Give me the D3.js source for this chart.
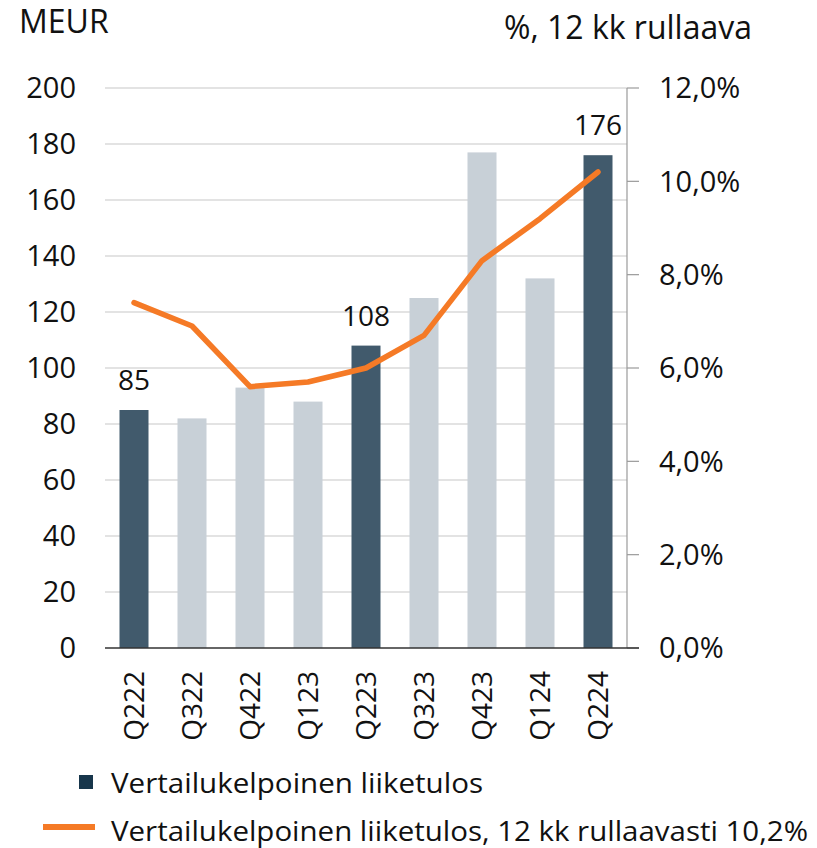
<!DOCTYPE html>
<html>
<head>
<meta charset="utf-8">
<script src="https://cdn.jsdelivr.net/npm/d3@7"></script>
<style>
  body { margin: 0; background: #fff; }
  text { font-family: "Open Sans", "Noto Sans", sans-serif; fill: #111; }
</style>
</head>
<body>
<div id="chart"></div>
<script>
(function(){
    // Data
    const quarters = ["Q222", "Q322", "Q422", "Q123", "Q223", "Q323", "Q423", "Q124", "Q224"];
    const profit = [85, 82, 93, 88, 108, 125, 177, 132, 176];
    const highlighted = [true, false, false, false, true, false, false, false, true];
    const rolling = [7.4, 6.9, 5.6, 5.7, 6.0, 6.7, 8.3, 9.2, 10.2];
    const leftTicks = [0, 20, 40, 60, 80, 100, 120, 140, 160, 180, 200];
    const rightTicks = [0, 2, 4, 6, 8, 10, 12];
    const legendLabels = ["Vertailukelpoinen liiketulos", "Vertailukelpoinen liiketulos, 12 kk rullaavasti 10,2%"];

    const dark = "#415a6c", light = "#c8d0d7", orange = "#f57a26";
    const W = 817, H = 848;
    const left = 105, right = 627, top = 88, bottom = 648;

    const svg = d3.select("#chart").append("svg")
        .attr("width", W).attr("height", H);

    const x = d3.scaleBand().domain(quarters).range([left, right])
        .paddingInner(0.5).paddingOuter(0.25);
    const y = d3.scaleLinear().domain([0, 200]).range([bottom, top]);
    const y2 = d3.scaleLinear().domain([0, 12]).range([bottom, top]);

    // Grid lines
    svg.selectAll(".grid")
        .data(leftTicks.filter(d => d > 0))
        .enter().append("line")
        .attr("x1", left).attr("x2", right)
        .attr("y1", d => y(d)).attr("y2", d => y(d))
        .attr("stroke", "#c8c8c8").attr("stroke-width", 1.2);

    // Bars
    svg.selectAll(".bar")
        .data(profit)
        .enter().append("rect")
        .attr("x", (d, i) => x(quarters[i]))
        .attr("width", x.bandwidth())
        .attr("y", d => y(d))
        .attr("height", d => y(0) - y(d))
        .attr("fill", (d, i) => highlighted[i] ? dark : light);

    // Value labels on highlighted bars
    svg.selectAll(".val")
        .data(profit.map((v, i) => ({ v, i })).filter(d => highlighted[d.i]))
        .enter().append("text")
        .attr("x", d => x(quarters[d.i]) + x.bandwidth() / 2)
        .attr("y", d => y(d.v) - 20)
        .attr("text-anchor", "middle")
        .style("font-size", "28px")
        .text(d => d.v);

    // Left axis labels
    svg.selectAll(".ltick")
        .data(leftTicks)
        .enter().append("text")
        .attr("x", 76).attr("y", d => y(d))
        .attr("dy", "0.36em")
        .attr("text-anchor", "end")
        .style("font-size", "29px")
        .text(d => d);

    // Right axis
    svg.append("line")
        .attr("x1", right).attr("x2", right)
        .attr("y1", top).attr("y2", bottom)
        .attr("stroke", "#9a9a9a").attr("stroke-width", 1.2);
    svg.selectAll(".rmark")
        .data(rightTicks)
        .enter().append("line")
        .attr("x1", right).attr("x2", right + 12)
        .attr("y1", d => y2(d)).attr("y2", d => y2(d))
        .attr("stroke", "#9a9a9a").attr("stroke-width", 1.2);
    svg.selectAll(".rtick")
        .data(rightTicks)
        .enter().append("text")
        .attr("x", 659).attr("y", d => y2(d))
        .attr("dy", "0.36em")
        .style("font-size", "29px")
        .text(d => d.toFixed(1).replace(".", ",") + "%");

    // Bottom axis line
    svg.append("line")
        .attr("x1", left).attr("x2", right + 12)
        .attr("y1", bottom).attr("y2", bottom)
        .attr("stroke", "#333").attr("stroke-width", 1.5);

    // Category labels
    svg.selectAll(".xtick")
        .data(quarters)
        .enter().append("text")
        .attr("transform", d => `translate(${x(d) + x.bandwidth() / 2}, 671) rotate(-90)`)
        .attr("dy", "0.36em")
        .attr("text-anchor", "end")
        .style("font-size", "28px")
        .text(d => d);

    // Rolling line
    const line = d3.line()
        .x((d, i) => x(quarters[i]) + x.bandwidth() / 2)
        .y(d => y2(d));
    svg.append("path")
        .datum(rolling)
        .attr("fill", "none")
        .attr("stroke", orange)
        .attr("stroke-width", 5.5)
        .attr("stroke-linecap", "round")
        .attr("stroke-linejoin", "round")
        .attr("d", line);

    // Titles
    svg.append("text").attr("x", 19).attr("y", 33)
        .style("font-size", "32px").text("MEUR");
    svg.append("text").attr("x", 752).attr("y", 39)
        .attr("text-anchor", "end")
        .style("font-size", "32px").text("%, 12 kk rullaava");

    // Legend
    svg.append("rect")
        .attr("x", 79).attr("y", 775).attr("width", 14).attr("height", 14)
        .attr("fill", "#17364b");
    svg.append("text").attr("x", 111).attr("y", 793)
        .attr("textLength", 372).attr("lengthAdjust", "spacingAndGlyphs")
        .style("font-size", "28px").text(legendLabels[0]);
    svg.append("line")
        .attr("x1", 43).attr("x2", 95).attr("y1", 827).attr("y2", 827)
        .attr("stroke", orange).attr("stroke-width", 6);
    svg.append("text").attr("x", 111).attr("y", 841)
        .attr("textLength", 697).attr("lengthAdjust", "spacingAndGlyphs")
        .style("font-size", "28px").text(legendLabels[1]);
})();
</script>
</body>
</html>
